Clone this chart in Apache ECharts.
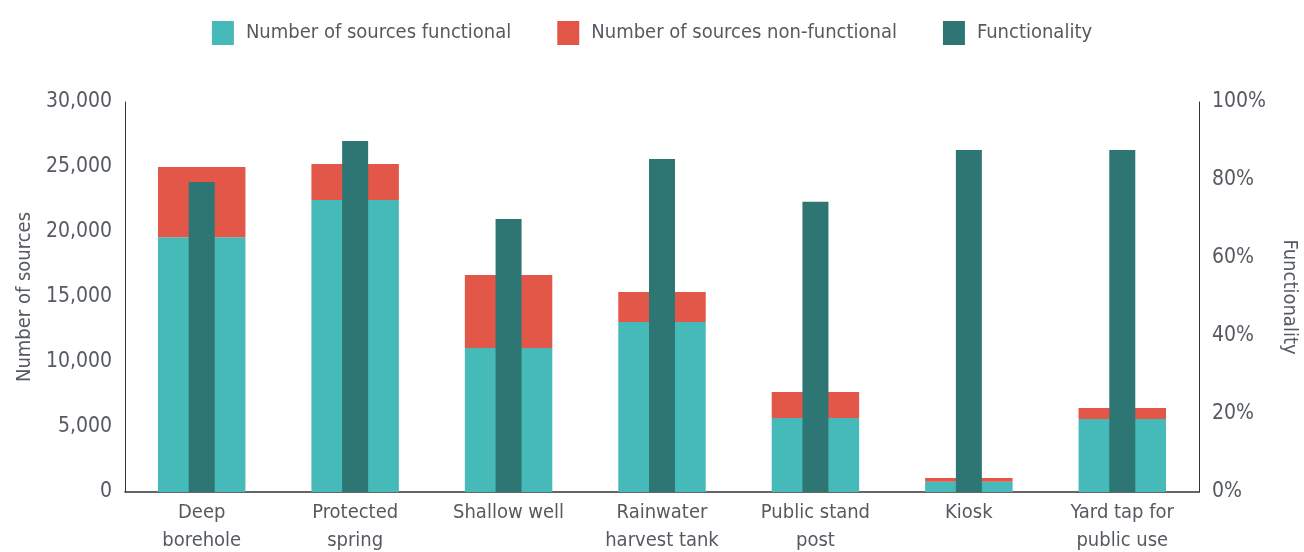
<!DOCTYPE html>
<html>
<head>
<meta charset="utf-8">
<script src="https://cdn.jsdelivr.net/npm/echarts@6/dist/echarts.min.js"></script>
<style>
  html, body { margin: 0; padding: 0; background: #fff; }
  #chart { width: 1304px; height: 552px; }
</style>
</head>
<body>
<div id="chart"></div>
<script>
const categories = [
  "Deep\nborehole",
  "Protected\nspring",
  "Shallow well",
  "Rainwater\nharvest tank",
  "Public stand\npost",
  "Kiosk",
  "Yard tap for\npublic use"
];
const functional = [19600, 22460, 11080, 13080, 5690, 780, 5620];
const nonFunctional = [5400, 2770, 5610, 2300, 2000, 300, 840];
const functionality = [79.5, 90, 70, 85.4, 74.4, 87.7, 87.7];

const FONT = "'DejaVu Sans Condensed', 'Liberation Sans Narrow', sans-serif";
const TEXT = "#555a61";

const chart = echarts.init(document.getElementById("chart"), null, { renderer: "canvas" });

chart.setOption({
  animation: false,
  textStyle: { fontFamily: FONT },
  legend: {
    top: 16,
    left: "center",
    icon: "rect",
    itemWidth: 22,
    itemHeight: 24,
    itemGap: 46,
    textStyle: { fontFamily: FONT, fontSize: 20, color: TEXT, padding: [0, 0, 0, 7] },
    data: ["Number of sources functional", "Number of sources non-functional", "Functionality"]
  },
  grid: { left: 125, right: 105, top: 102, bottom: 60, outerBoundsMode: "none" },
  xAxis: [
    {
      type: "category",
      data: categories,
      axisTick: { show: false },
      axisLine: { lineStyle: { color: "#333", width: 1.5 } },
      axisLabel: {
        interval: 0,
        margin: 7,
        fontFamily: FONT,
        fontSize: 20,
        lineHeight: 28,
        color: TEXT
      }
    },
    {
      type: "category",
      data: categories,
      show: false
    }
  ],
  yAxis: [
    {
      type: "value",
      min: 0,
      max: 30000,
      interval: 5000,
      name: "Number of sources",
      nameLocation: "middle",
      nameGap: 88,
      nameTextStyle: { fontFamily: FONT, fontSize: 20, color: TEXT },
      axisLine: { show: true, lineStyle: { color: "#333" } },
      axisTick: { show: false },
      splitLine: { show: false },
      axisLabel: {
        margin: 13,
        fontFamily: FONT,
        fontSize: 21,
        color: TEXT,
        formatter: (v) => v.toLocaleString("en-US")
      }
    },
    {
      type: "value",
      min: 0,
      max: 100,
      interval: 20,
      name: "Functionality",
      nameLocation: "middle",
      nameGap: 80,
      nameRotate: -90,
      nameTextStyle: { fontFamily: FONT, fontSize: 20, color: TEXT },
      axisLine: { show: true, lineStyle: { color: "#333" } },
      axisTick: { show: false },
      splitLine: { show: false },
      axisLabel: {
        margin: 13,
        fontFamily: FONT,
        fontSize: 21,
        color: TEXT,
        formatter: (v) => v + "%"
      }
    }
  ],
  series: [
    {
      name: "Number of sources functional",
      type: "bar",
      stack: "src",
      xAxisIndex: 0,
      yAxisIndex: 0,
      barWidth: "57%",
      itemStyle: { color: "#46bab8" },
      data: functional
    },
    {
      name: "Number of sources non-functional",
      type: "bar",
      stack: "src",
      xAxisIndex: 0,
      yAxisIndex: 0,
      barWidth: "57%",
      itemStyle: { color: "#e35749" },
      data: nonFunctional
    },
    {
      name: "Functionality",
      type: "bar",
      xAxisIndex: 1,
      yAxisIndex: 1,
      barWidth: 26,
      itemStyle: { color: "#2e7673" },
      data: functionality
    }
  ]
});
</script>
</body>
</html>
